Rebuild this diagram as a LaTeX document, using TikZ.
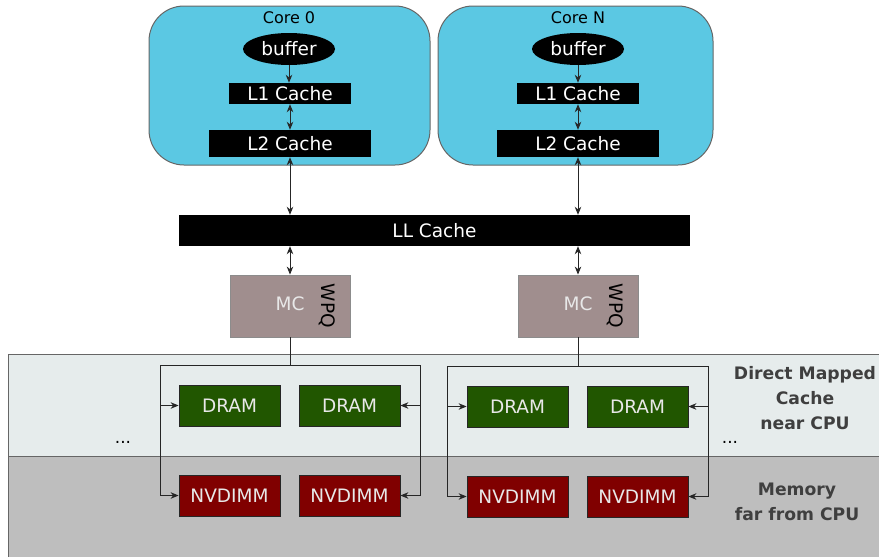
\documentclass[tikz,border=0pt]{standalone}
\usepackage{fontspec}
\setmainfont{DejaVu Sans}
\usetikzlibrary{arrows.meta,shapes.geometric}
\definecolor{corefill}{HTML}{5BC8E3}
\definecolor{mcfill}{HTML}{A08E8E}
\definecolor{dramfill}{HTML}{215600}
\definecolor{nvfill}{HTML}{800000}
\definecolor{nearband}{HTML}{E6ECEC}
\definecolor{farband}{HTML}{BEBEBE}
\definecolor{labelgray}{HTML}{3F3F3F}
\definecolor{boxtext}{HTML}{E8E8E8}
\tikzset{
  corebox/.style={draw=black!60, line width=1pt, fill=corefill, rounded corners=35pt},
  cachebox/.style={fill=black, text=white, inner sep=0pt, font=\fontsize{18.5}{20}\selectfont},
  bufnode/.style={ellipse, fill=black, text=white, inner sep=0pt, minimum width=92pt, minimum height=32pt, font=\fontsize{18.5}{20}\selectfont},
  mcbox/.style={draw=black!45, line width=0.8pt, fill=mcfill, inner sep=0pt, minimum width=120pt, minimum height=62pt},
  drambox/.style={draw=black!85, line width=0.8pt, fill=dramfill, text=boxtext, inner sep=0pt, minimum width=101pt, minimum height=41pt, font=\fontsize{18.5}{20}\selectfont},
  nvbox/.style={draw=black!85, line width=0.8pt, fill=nvfill, text=boxtext, inner sep=0pt, minimum width=101pt, minimum height=41pt, font=\fontsize{18.5}{20}\selectfont},
  link/.style={line width=1pt, black!85},
  tip/.style={-{Stealth[length=8pt,width=6.5pt,inset=2.5pt]}},
  twotip/.style={{Stealth[length=8pt,width=6.5pt,inset=2.5pt]}-{Stealth[length=8pt,width=6.5pt,inset=2.5pt]}},
  bandlabel/.style={align=center, text=labelgray, font=\bfseries\fontsize{17.2}{25}\selectfont},
}
\begin{document}
\begin{tikzpicture}[x=1pt,y=-1pt]
\useasboundingbox (0,0) rectangle (879,557);

% memory bands
\fill[nearband] (8,354) rectangle (879,456);
\fill[farband] (8,456) rectangle (879,557);
\draw[black!60, line width=1pt] (879,354) -- (8,354) -- (8,557);
\draw[black!60, line width=1pt] (8,456) -- (879,456);

% cores
\draw[corebox] (149,6) rectangle (430,165);
\draw[corebox] (438,6) rectangle (713,165);
\node[font=\fontsize{16}{18}\selectfont] (core0) at (289,18) {Core 0};
\node[font=\fontsize{16}{18}\selectfont] (coreN) at (578,18) {Core N};

\node[bufnode] (buf0) at (289,49) {buffer};
\node[cachebox, minimum width=122pt, minimum height=21pt] (l10) at (290,93.5) {L1 Cache};
\node[cachebox, minimum width=162pt, minimum height=27pt] (l20) at (290,143.5) {L2 Cache};

\node[bufnode] (bufN) at (578,49) {buffer};
\node[cachebox, minimum width=122pt, minimum height=21pt] (l1N) at (578,93.5) {L1 Cache};
\node[cachebox, minimum width=162pt, minimum height=27pt] (l2N) at (578,143.5) {L2 Cache};

\node[cachebox, minimum width=511pt, minimum height=31pt] (llc) at (434.5,230.5) {LL Cache};

% memory controllers
\node[mcbox] (mc0) at (290,306) {};
\node[text=boxtext, font=\fontsize{18.5}{20}\selectfont] (mc0t) at (290,304) {MC};
\node[rotate=-90, font=\fontsize{18.5}{20}\selectfont] (wpq0) at (327,306) {WPQ};
\node[mcbox] (mcN) at (578,306) {};
\node[text=boxtext, font=\fontsize{18.5}{20}\selectfont] (mcNt) at (578,304) {MC};
\node[rotate=-90, font=\fontsize{18.5}{20}\selectfont] (wpqN) at (615,306) {WPQ};

% cache hierarchy links
\draw[link, tip] (buf0.south) -- (l10.north -| buf0.south);
\draw[link, twotip] (l10.south) -- (l20.north);
\draw[link, twotip] (l20.south) -- (llc.north -| l20.south);
\draw[link, twotip] (llc.south -| mc0.north) -- (mc0.north);
\draw[link, tip] (bufN.south) -- (l1N.north -| bufN.south);
\draw[link, twotip] (l1N.south) -- (l2N.north);
\draw[link, twotip] (l2N.south) -- (llc.north -| l2N.south);
\draw[link, twotip] (llc.south -| mcN.north) -- (mcN.north);

% DIMMs
\node[drambox] (d00) at (229.5,405.5) {DRAM};
\node[drambox] (d01) at (349.5,405.5) {DRAM};
\node[nvbox] (n00) at (229.5,495.5) {NVDIMM};
\node[nvbox] (n01) at (349.5,495.5) {NVDIMM};
\node[drambox] (dN0) at (517.5,406.5) {DRAM};
\node[drambox] (dN1) at (637.5,406.5) {DRAM};
\node[nvbox] (nN0) at (517.5,496.5) {NVDIMM};
\node[nvbox] (nN1) at (637.5,496.5) {NVDIMM};

% channel wiring
\coordinate (b0) at (290,365);
\coordinate (bN) at (578,366);
\draw[link] (mc0.south) -- (b0);
\draw[link] (mcN.south) -- (bN);
\draw[link] (160,365) -- (420,365);
\draw[link, tip] (160,365) |- (n00.west);
\draw[link, tip] (160,405.5) -- (d00.west);
\draw[link, tip] (420,365) |- (n01.east);
\draw[link, tip] (420,405.5) -- (d01.east);
\draw[link] (447,366) -- (708,366);
\draw[link, tip] (447,366) |- (nN0.west);
\draw[link, tip] (447,406.5) -- (dN0.west);
\draw[link, tip] (708,366) |- (nN1.east);
\draw[link, tip] (708,406.5) -- (dN1.east);

\node[font=\fontsize{17}{18}\selectfont] (dotsL) at (123,442) {...};
\node[font=\fontsize{17}{18}\selectfont] (dotsR) at (730,442) {...};

% band labels
\node[bandlabel] (nearlbl) at (805,398) {Direct Mapped\\Cache\\near CPU};
\node[bandlabel] (farlbl) at (797,502) {Memory\\far from CPU};
\end{tikzpicture}
\end{document}
